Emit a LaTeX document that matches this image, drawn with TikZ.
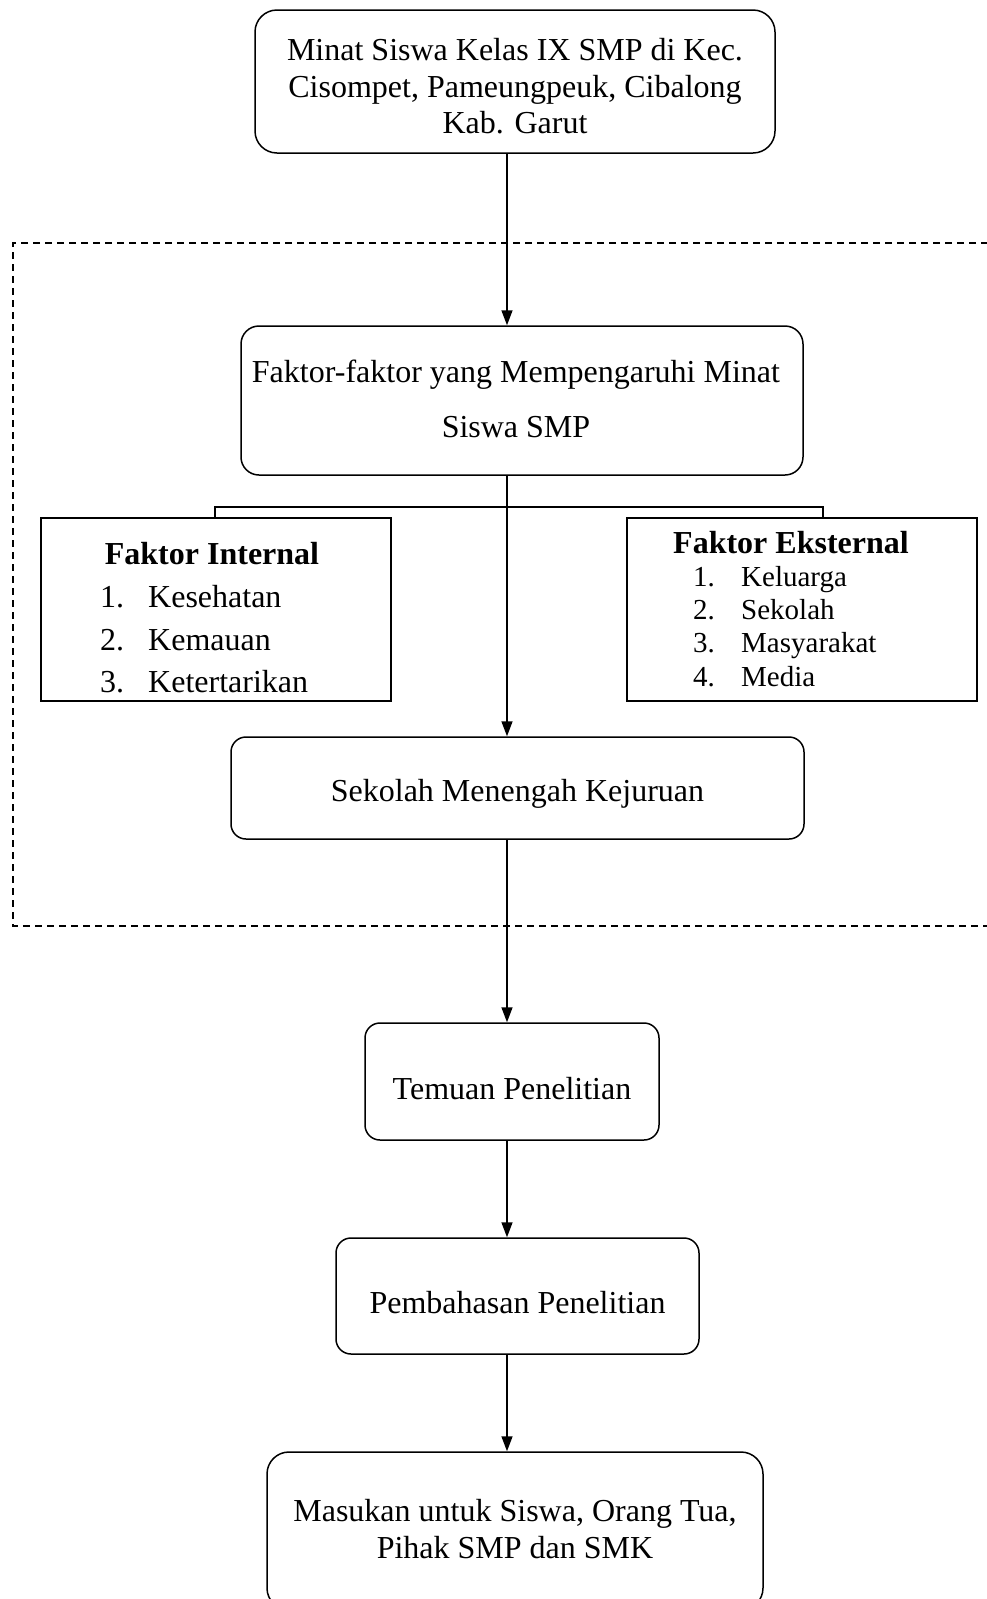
\documentclass[tikz,border=0pt]{standalone}
\usepackage{fontspec}
\setmainfont{Liberation Serif}
\usetikzlibrary{arrows.meta}
\begin{document}
\begin{tikzpicture}[x=1pt,y=-1pt,
  rbox/.style={draw,line width=1.5pt,rounded corners=18pt,inner sep=0pt},
  btxt/.style={inner sep=0pt,align=center,font=\fontsize{32}{36.5}\selectfont},
  sbox/.style={draw,line width=1.5pt,inner sep=0pt},
  arr/.style={line width=1.5pt,-{Triangle[length=15pt,width=11pt]}},
  conn/.style={line width=1.5pt},
  txt/.style={anchor=base,inner sep=0pt,font=\fontsize{32}{36}\selectfont},
  stxt/.style={anchor=base west,inner sep=0pt,font=\fontsize{32}{36}\selectfont},
  rtxt/.style={anchor=base west,inner sep=0pt,font=\fontsize{29}{33}\selectfont}]
\useasboundingbox (0,0) rectangle (987,1599);
\clip (0,0) rectangle (987,1599);
% dashed frame
\draw[line width=1.3pt,dash pattern=on 7pt off 5pt] (1000,243) -- (13,243) -- (13,926) -- (1000,926);
\coordinate (ax) at (507,0);
% boxes
\node[rbox,minimum width=520pt,minimum height=143pt,rounded corners=22pt] (top) at (515,81.5) {};
\node[rbox,minimum width=562pt,minimum height=149pt] (faktor) at (522,400.5) {};
\node[sbox,minimum width=350pt,minimum height=183pt] (left) at (216,609.5) {};
\node[sbox,minimum width=350pt,minimum height=183pt] (right) at (802,609.5) {};
\node[rbox,minimum width=573pt,minimum height=102pt,rounded corners=15pt] (smk) at (517.5,788) {};
\node[rbox,minimum width=294pt,minimum height=117pt,rounded corners=15pt] (temuan) at (512,1081.5) {};
\node[rbox,minimum width=363pt,minimum height=116pt,rounded corners=15pt] (pemb) at (517.5,1296) {};
\node[rbox,minimum width=496pt,minimum height=158pt,rounded corners=22pt] (mas) at (515,1531) {};
% box texts
\node[btxt] (topt) at ([yshift=-5pt]top.center)
  {Minat Siswa Kelas IX SMP di Kec.\\Cisompet, Pameungpeuk, Cibalong\\Kab. Garut};
\node[btxt,font=\fontsize{32}{55}\selectfont] (faktort) at ([xshift=-6pt,yshift=2pt]faktor.center)
  {Faktor-faktor yang Mempengaruhi Minat\\Siswa SMP};
\node[btxt] (smkt) at ([yshift=-6pt]smk.center) {Sekolah Menengah Kejuruan};
\node[btxt] (temuant) at ([yshift=-7pt]temuan.center) {Temuan Penelitian};
\node[btxt] (pembt) at ([yshift=-7pt]pemb.center) {Pembahasan Penelitian};
\node[btxt] (mast) at ([yshift=2pt]mas.center) {Masukan untuk Siswa, Orang Tua,\\Pihak SMP dan SMK};
% left box text
\node[txt,font=\fontsize{32}{36}\selectfont\bfseries] (lt) at (212,564) {Faktor Internal};
\node[stxt] (l1n) at (100,607) {1.};
\node[stxt] (l1) at (148,607) {Kesehatan};
\node[stxt] (l2n) at (100,650) {2.};
\node[stxt] (l2) at (148,650) {Kemauan};
\node[stxt] (l3n) at (100,692) {3.};
\node[stxt] (l3) at (148,692) {Ketertarikan};
% right box text
\node[txt,font=\fontsize{32}{36}\selectfont\bfseries] (rt) at (791,553) {Faktor Eksternal};
\node[rtxt] (r1n) at (693,586) {1.};
\node[rtxt] (r1) at (741,586) {Keluarga};
\node[rtxt] (r2n) at (693,619) {2.};
\node[rtxt] (r2) at (741,619) {Sekolah};
\node[rtxt] (r3n) at (693,652) {3.};
\node[rtxt] (r3) at (741,652) {Masyarakat};
\node[rtxt] (r4n) at (693,686) {4.};
\node[rtxt] (r4) at (741,686) {Media};
% connectors
\coordinate (bl) at (215,507);
\coordinate (br) at (823,507);
\draw[conn] (left.north -| bl) -- (bl) -- (br) -- (right.north -| br);
\draw[arr] (top.south -| ax) -- (faktor.north -| ax);
\draw[arr] (faktor.south -| ax) -- (smk.north -| ax);
\draw[arr] (smk.south -| ax) -- (temuan.north -| ax);
\draw[arr] (temuan.south -| ax) -- (pemb.north -| ax);
\draw[arr] (pemb.south -| ax) -- (mas.north -| ax);
\end{tikzpicture}
\end{document}
